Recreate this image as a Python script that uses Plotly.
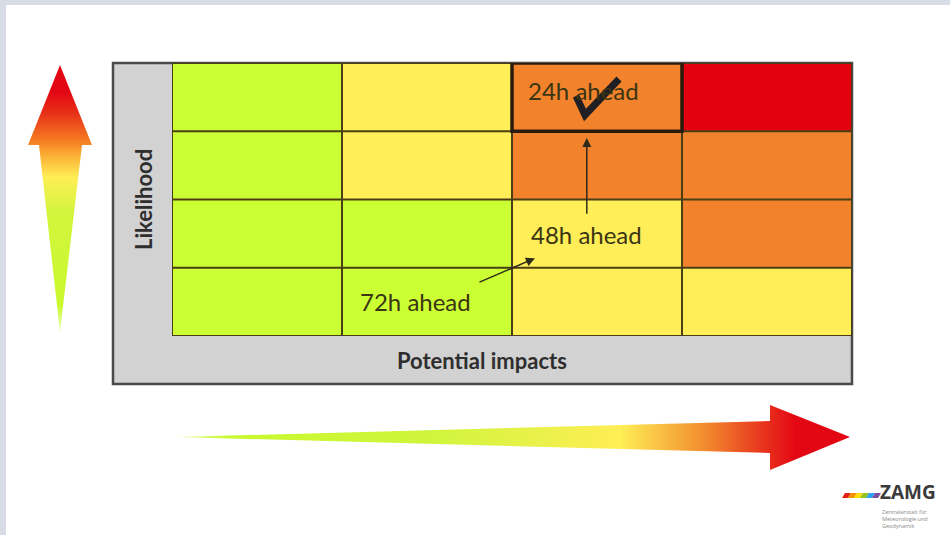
import plotly.graph_objects as go

# ---- data -----------------------------------------------------------------
impact_cols = [0, 1, 2, 3]          # potential impacts, low -> high
likelihood_rows = [0, 1, 2, 3]      # likelihood, low -> high
# warning level per cell: 0 green, 1 yellow, 2 orange, 3 red (rows bottom -> top)
risk_levels = [
    [0, 0, 1, 1],
    [0, 0, 1, 2],
    [0, 1, 2, 2],
    [0, 1, 2, 3],
]
level_colors = ["#CBFF33", "#FFEE58", "#F2822C", "#E3000F"]

# forecast steps: label, impact column, likelihood row
forecast_labels = ["72h ahead", "48h ahead", "24h ahead"]
forecast_cols = [0.93, 1.94, 1.92]
forecast_rows = [0.0, 0.99, 3.1]
highlight_cell = (2, 3)  # column, row of the final warning

W, H = 950, 535


def px(x):
    return x / W


def py(y):
    return 1 - y / H


fig = go.Figure()

# ---- risk matrix ------------------------------------------------------------
cs = []
n = len(level_colors)
for i, c in enumerate(level_colors):
    cs.append([i / n, c])
    cs.append([(i + 1) / n, c])

fig.add_trace(go.Heatmap(
    x=impact_cols, y=likelihood_rows, z=risk_levels,
    colorscale=cs, zmin=0, zmax=3, showscale=False, hoverinfo="skip",
    xaxis="x", yaxis="y",
))

# ---- gradient arrows (pixel axes x2/y2) ---------------------------------------
v_arrow_x = [60, 92, 82, 60, 39, 28, 60]
v_arrow_y = [65, 145, 145, 332, 145, 145, 65]
fig.add_trace(go.Scatter(
    x=v_arrow_x, y=v_arrow_y, xaxis="x2", yaxis="y2", mode="lines",
    line=dict(width=0), fill="toself", hoverinfo="skip", showlegend=False,
    fillgradient=dict(
        type="vertical", start=332, stop=65,
        colorscale=[[0, "#eaffb0"], [0.1, "#c9f92e"], [0.45, "#d2f53c"],
                    [0.58, "#ffee55"], [0.66, "#fbb035"], [0.72, "#f57a22"],
                    [0.82, "#e83018"], [0.9, "#e30613"], [1, "#e30613"]],
    ),
))

h_arrow_x = [175, 770, 770, 850, 770, 770, 175]
h_arrow_y = [437, 421, 405, 437, 470, 453, 437]
fig.add_trace(go.Scatter(
    x=h_arrow_x, y=h_arrow_y, xaxis="x2", yaxis="y2", mode="lines",
    line=dict(width=0), fill="toself", hoverinfo="skip", showlegend=False,
    fillgradient=dict(
        type="horizontal", start=175, stop=850,
        colorscale=[[0, "#eaffb0"], [0.08, "#c9f92e"], [0.38, "#cff53c"],
                    [0.66, "#ffee55"], [0.78, "#f39030"], [0.86, "#e94020"],
                    [0.92, "#e30613"], [1, "#e30613"]],
    ),
))

# check mark on the final warning cell
fig.add_trace(go.Scatter(
    x=[576, 585, 619], y=[96, 115, 79], xaxis="x2", yaxis="y2", mode="lines",
    line=dict(color="#1f1f24", width=7), hoverinfo="skip", showlegend=False,
))

# rainbow stripes of the logo
stripe_colors = ["#e2231a", "#f39200", "#ffdd00", "#95c11f", "#2ea3f2", "#7d4e9f"]
for i, c in enumerate(stripe_colors):
    x0 = 842 + i * 6
    fig.add_trace(go.Scatter(
        x=[x0, x0 + 6, x0 + 9, x0 + 3, x0], y=[498, 498, 493, 493, 498],
        xaxis="x2", yaxis="y2", mode="lines", line=dict(width=0),
        fill="toself", fillcolor=c, hoverinfo="skip", showlegend=False,
    ))

# ---- shapes -------------------------------------------------------------------
shapes = [
    # slide area
    dict(type="rect", xref="paper", yref="paper", x0=px(6), x1=1, y0=0, y1=py(5),
         fillcolor="white", line=dict(width=0), layer="below"),
    # grey frame with axis label bands
    dict(type="rect", xref="paper", yref="paper", x0=px(113), x1=px(852),
         y0=py(384), y1=py(63), fillcolor="#d2d2d2",
         line=dict(color="#4a4a4a", width=2.5), layer="below"),
]
grid_color = "#4a3f14"
for k in range(len(impact_cols) + 1):
    shapes.append(dict(type="line", xref="x", yref="y", x0=k - 0.5, x1=k - 0.5,
                       y0=-0.5, y1=len(likelihood_rows) - 0.5,
                       line=dict(color=grid_color, width=2)))
for k in range(len(likelihood_rows) + 1):
    shapes.append(dict(type="line", xref="x", yref="y", y0=k - 0.5, y1=k - 0.5,
                       x0=-0.5, x1=len(impact_cols) - 0.5,
                       line=dict(color=grid_color, width=2)))
hc, hr = highlight_cell
shapes.append(dict(type="rect", xref="x", yref="y", x0=hc - 0.5, x1=hc + 0.5,
                   y0=hr - 0.5, y1=hr + 0.5, line=dict(color="#2a1a0e", width=3.5)))

# ---- text ---------------------------------------------------------------------
cell_font = dict(family="Lato", size=24, color="#3a3512")
annotations = []
for lab, cx, cy in zip(forecast_labels, forecast_cols, forecast_rows):
    annotations.append(dict(x=cx, y=cy, xref="x", yref="y", text=lab,
                            xanchor="center", yanchor="middle",
                            showarrow=False, font=cell_font))

# arrows between forecast steps
arrow_tail = [(1.30, 0.28), (1.94, 1.27)]
arrow_head = [(1.635, 0.64), (1.94, 2.40)]
for (tx, ty), (hx, hy) in zip(arrow_tail, arrow_head):
    annotations.append(dict(x=hx, y=hy, ax=tx, ay=ty, xref="x", yref="y",
                            axref="x", ayref="y", text="", showarrow=True,
                            arrowhead=2, arrowsize=1.2, arrowwidth=1.5,
                            arrowcolor="#2e2a1a"))

annotations.append(dict(x=px(482), y=py(360), xref="paper", yref="paper",
                        xanchor="center", yanchor="middle",
                        text="<b>Potential impacts</b>", showarrow=False,
                        font=dict(family="Lato", size=22, color="#2e2e2e")))
annotations.append(dict(x=px(143), y=py(200), xref="paper", yref="paper",
                        xanchor="center", yanchor="middle",
                        text="<b>Likelihood</b>", showarrow=False, textangle=-90,
                        font=dict(family="Lato", size=22, color="#2e2e2e")))

# logo text
annotations.append(dict(x=px(879), y=py(506), xref="paper", yref="paper",
                        xanchor="left", yanchor="bottom", text="<b>ZAMG</b>",
                        showarrow=False, borderpad=0,
                        font=dict(family="Open Sans", size=19, color="#3a3a3a")))
annotations.append(dict(x=px(881), y=py(507), xref="paper", yref="paper",
                        xanchor="left", yanchor="top", align="left",
                        text="Zentralanstalt für<br>Meteorologie und<br>Geodynamik",
                        showarrow=False, borderpad=0,
                        font=dict(family="Open Sans", size=5.5, color="#8a8a8a")))

fig.update_layout(
    width=W, height=H, margin=dict(l=0, r=0, t=0, b=0),
    paper_bgcolor="#d8dce6", plot_bgcolor="rgba(0,0,0,0)",
    xaxis=dict(domain=[px(172), px(852)], range=[-0.5, 3.5], visible=False,
               fixedrange=True),
    yaxis=dict(domain=[py(336), py(63)], range=[-0.5, 3.5], visible=False,
               fixedrange=True),
    xaxis2=dict(domain=[0, 1], range=[0, W], visible=False, anchor="y2",
                fixedrange=True),
    yaxis2=dict(domain=[0, 1], range=[H, 0], visible=False, anchor="x2",
                fixedrange=True),
    shapes=shapes, annotations=annotations, showlegend=False,
)

fig.write_html("out.html")
